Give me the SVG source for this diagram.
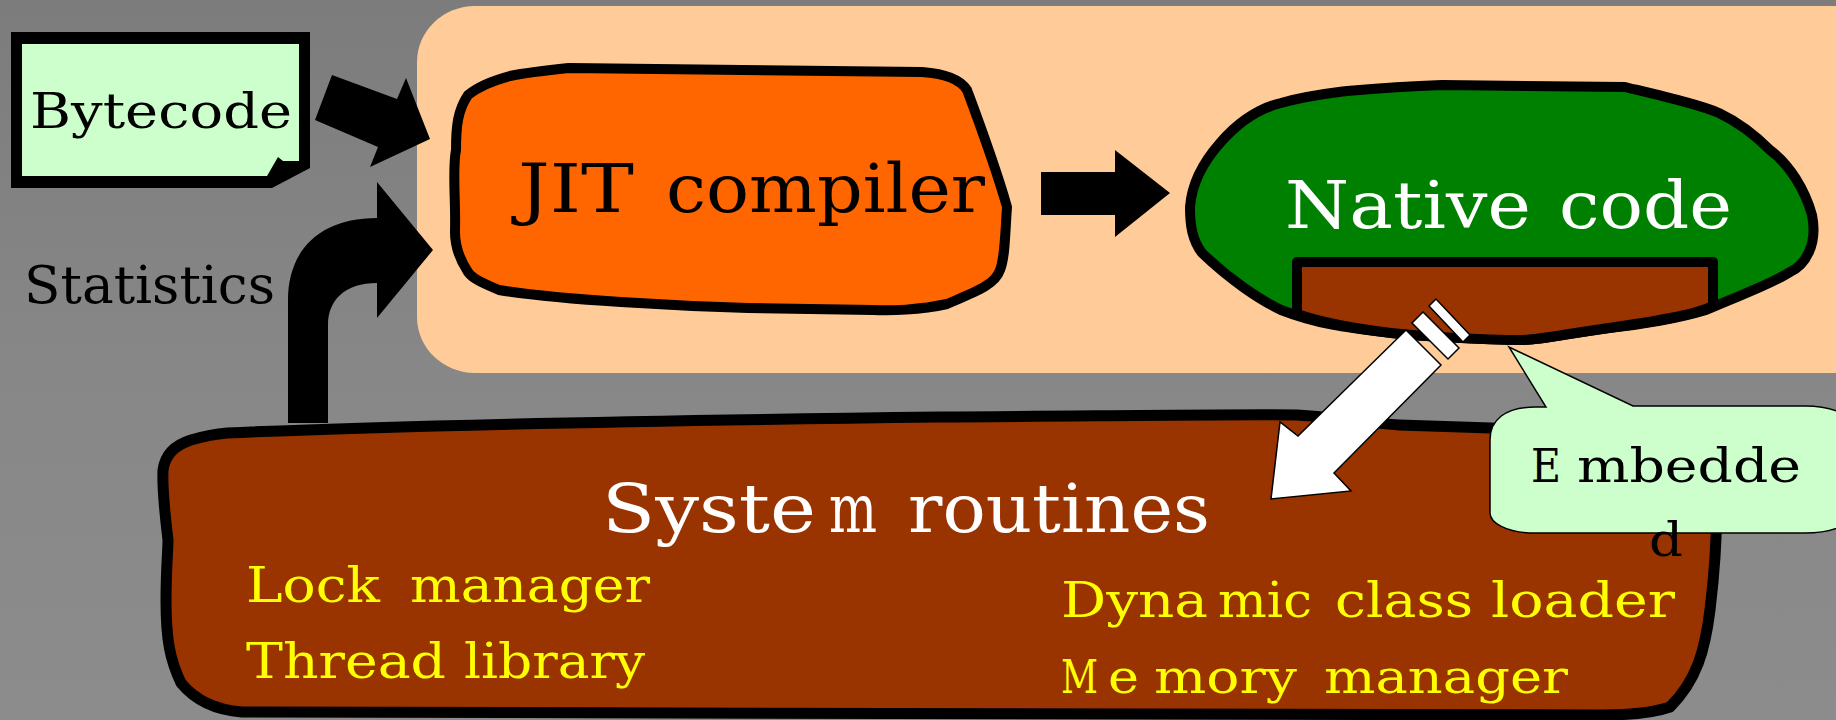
<svg xmlns="http://www.w3.org/2000/svg" width="1836" height="720" viewBox="0 0 1836 720">
  <defs>
    <linearGradient id="bg" x1="0" y1="0" x2="0" y2="1">
      <stop offset="0" stop-color="#7c7c7c"/>
      <stop offset="0.5" stop-color="#878787"/>
      <stop offset="1" stop-color="#8c8c8c"/>
    </linearGradient>
  </defs>
  <style>
    text { font-family: "DejaVu Serif", "Liberation Serif", serif; }
    .blob { stroke: #000; stroke-width: 10; stroke-linejoin: round; }
    .solid { fill: #000; stroke: none; }
    .white-arrow { fill: #fff; stroke: #000; stroke-width: 1.5; stroke-linejoin: miter; }
    .dark { fill: #000; }
    .light { fill: #fff; }
    .yellow { fill: #ffff00; }
  </style>
  <rect width="1836" height="720" fill="url(#bg)"/>

  <g id="vm-container">
    <rect x="417" y="6" width="1480" height="367" rx="58" ry="56" fill="#ffcc99"/>
  </g>

  <g id="bytecode">
    <polygon points="11,32 310,32 310,168 272,188 11,188" fill="#000"/>
    <polygon points="22,44 299,44 299,161 283,161 278,157 267,176 22,176" fill="#ccffcc"/>
    <text x="30" y="128" font-size="48" textLength="262" lengthAdjust="spacingAndGlyphs" class="dark">Bytecode</text>
  </g>

  <g id="statistics-label">
    <text x="24" y="303" font-size="52" textLength="251" lengthAdjust="spacingAndGlyphs" class="dark">Statistics</text>
  </g>

  <g id="jit-compiler">
    <path class="blob" fill="#ff6600" d="M569,68 L922,72 C950,74 962,82 967,90 C980,125 995,165 1007,207 C1005,235 1005,258 1000,270 C995,285 975,292 947,304 C920,310 890,311 873,310 L748,308 C680,306 560,300 499,290 C480,282 472,278 468,272 C460,260 455,248 455,232 C456,200 452,170 456,150 C456,125 458,110 468,95 C480,85 495,80 510,76 C530,72 550,70 569,68 Z"/>
    <text y="212" font-size="67" class="dark"><tspan x="518" textLength="116" lengthAdjust="spacingAndGlyphs">JIT</tspan> <tspan x="666" textLength="319" lengthAdjust="spacingAndGlyphs">compiler</tspan></text>
  </g>

  <g id="native-code">
    <path class="blob" fill="#008000" d="M1442,85 L1625,87 C1670,98 1700,105 1719,113 C1740,123 1755,135 1770,150 C1790,165 1805,190 1812,215 C1818,245 1805,265 1790,272 C1770,285 1740,295 1706,310 C1680,318 1640,325 1609,328 C1570,333 1540,340 1522,340 C1480,340 1420,336 1391,333 C1350,328 1320,325 1281,310 C1260,300 1230,280 1202,253 C1192,240 1190,225 1190,207 C1192,180 1205,160 1220,143 C1240,120 1260,108 1281,103 C1310,95 1340,92 1347,91 C1380,88 1410,86 1442,85 Z"/>
    <path class="blob" fill="#993300" d="M1297,262 H1713 V306 C1700,312 1680,318 1609,328 C1570,333 1540,340 1522,340 C1480,340 1420,336 1391,333 C1350,328 1320,322 1297,314 Z"/>
    <text y="228" font-size="66" class="light"><tspan x="1285" textLength="246" lengthAdjust="spacingAndGlyphs">Native</tspan> <tspan x="1559" textLength="173" lengthAdjust="spacingAndGlyphs">code</tspan></text>
  </g>

  <g id="system-routines">
    <path stroke="#000" stroke-width="11" stroke-linejoin="round" fill="#993300" d="M227,433 C400,425 700,420 940,417 C1100,416 1250,414 1297,415 C1350,418 1380,424 1399,425 L1491,428 C1600,430 1700,440 1716,480 C1718,520 1716,560 1710,610 C1705,650 1697,680 1670,707 C1650,714 1620,715 1603,715 L242,712 C215,710 195,700 181,683 C170,660 166,640 166,600 C166,570 168,550 168,540 C165,515 162,490 163,470 C165,455 175,445 191,440 C205,436 215,434 227,433 Z"/>
    <text y="532" font-size="67" class="light"><tspan x="602" textLength="214" lengthAdjust="spacingAndGlyphs">Syste</tspan><tspan x="829" textLength="48" lengthAdjust="spacingAndGlyphs">m</tspan> <tspan x="908" textLength="302" lengthAdjust="spacingAndGlyphs">routines</tspan></text>
    <text y="602" font-size="48" class="yellow"><tspan x="246" textLength="134" lengthAdjust="spacingAndGlyphs">Lock</tspan> <tspan x="410" textLength="240" lengthAdjust="spacingAndGlyphs">manager</tspan></text>
    <text y="678" font-size="48" class="yellow"><tspan x="246" textLength="200" lengthAdjust="spacingAndGlyphs">Thread</tspan> <tspan x="464" textLength="181" lengthAdjust="spacingAndGlyphs">library</tspan></text>
    <text y="617" font-size="48" class="yellow"><tspan x="1061" textLength="147" lengthAdjust="spacingAndGlyphs">Dyna</tspan><tspan x="1218" textLength="94" lengthAdjust="spacingAndGlyphs">mic</tspan> <tspan x="1335" textLength="138" lengthAdjust="spacingAndGlyphs">class</tspan> <tspan x="1491" textLength="184" lengthAdjust="spacingAndGlyphs">loader</tspan></text>
    <text y="693" font-size="46" class="yellow"><tspan x="1061" textLength="37" lengthAdjust="spacingAndGlyphs">M</tspan><tspan x="1108" textLength="31" lengthAdjust="spacingAndGlyphs">e</tspan><tspan x="1154" textLength="143" lengthAdjust="spacingAndGlyphs">mory</tspan> <tspan x="1324" textLength="244" lengthAdjust="spacingAndGlyphs">manager</tspan></text>
  </g>

  <g id="connectors">
    <polygon class="solid" points="332,75 397,99 406,78 430,139 370,167 378,147 315,120"/>
    <path class="solid" d="M288,423 V300 C288,250 320,218 377,218 V182 L433,250 L377,318 V283 C345,283 328,300 328,325 V423 Z"/>
    <polygon class="solid" points="1041,172 1115,172 1115,150 1170,193 1115,237 1115,215 1041,215"/>
    <g id="embedded-arrow">
      <polygon class="white-arrow" points="1406,330 1441,365 1334,473 1351,491 1271,499 1280,422 1298,436"/>
      <polygon class="white-arrow" points="1412,323 1423,312 1459,348 1448,359"/>
      <polygon class="white-arrow" points="1429,306 1436,299 1470,335 1463,342"/>
    </g>
  </g>

  <g id="embedded-callout">
    <path fill="#ccffcc" stroke="#000" stroke-width="1.5" d="M1535,407 L1546,407 L1509,347 L1633,406 L1805,406 C1840,406 1860,420 1860,440 L1860,500 C1860,520 1840,533 1805,533 L1535,533 C1505,533 1490,522 1490,513 L1490,440 C1490,420 1505,407 1535,407 Z"/>
    <text y="482" font-size="47" class="dark"><tspan x="1531" textLength="30" lengthAdjust="spacingAndGlyphs">E</tspan><tspan x="1577" textLength="224" lengthAdjust="spacingAndGlyphs">mbedde</tspan></text>
    <text x="1649" y="556" font-size="47" textLength="34" lengthAdjust="spacingAndGlyphs" class="dark">d</text>
  </g>
</svg>
